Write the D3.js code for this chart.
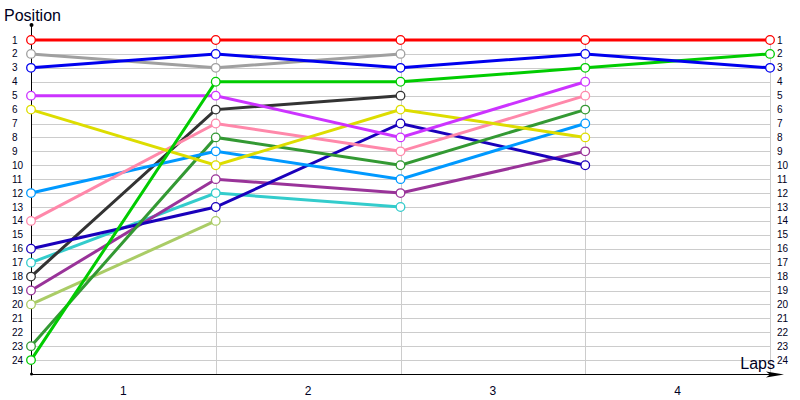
<!DOCTYPE html>
<meta charset="utf-8">
<html>
<head>
<style>
  body { margin: 0; background: #fff; }
  text { font-family: "Liberation Sans", Arial, sans-serif; }
</style>
</head>
<body>
<div id="chart"></div>
<script src="https://d3js.org/d3.v7.min.js"></script>
<script>

// lap columns (0 = start) and the labels drawn between them
var laps = [0, 1, 2, 3, 4];
var lapLabels = ["1", "2", "3", "4"];
var positions = d3.range(1, 25);

// position of each driver at lap 0,1,2,... (shorter arrays = retired)
var red     = [1, 1, 1, 1, 1];
var gray    = [2, 3, 2];
var blue    = [3, 2, 3, 2, 3];
var magenta = [5, 5, 8, 4];
var yellow  = [6, 10, 6, 8];
var skyBlue = [12, 9, 11, 7];
var pink    = [14, 7, 9, 5];
var navy    = [16, 13, 7, 10];
var cyan    = [17, 12, 13];
var black   = [18, 6, 5];
var purple  = [19, 11, 12, 9];
var olive   = [20, 14];
var dkGreen = [23, 8, 10, 6];
var green   = [24, 4, 4, 3, 2];

var series = [
  { vals: gray,    color: "#a0a0a0" },
  { vals: olive,   color: "#aacc66" },
  { vals: cyan,    color: "#33cccc" },
  { vals: black,   color: "#333333" },
  { vals: purple,  color: "#993399" },
  { vals: navy,    color: "#1a00bb" },
  { vals: dkGreen, color: "#339933" },
  { vals: skyBlue, color: "#0099ff" },
  { vals: pink,    color: "#ff88aa" },
  { vals: yellow,  color: "#dddd00" },
  { vals: magenta, color: "#cc33ff" },
  { vals: green,   color: "#00cc00" },
  { vals: blue,    color: "#0000ee" },
  { vals: red,     color: "#ff0000" }
];

var width = 800, height = 400;

var svg = d3.select("#chart").append("svg")
  .attr("width", width)
  .attr("height", height);

var x = d3.scaleLinear().domain([0, 4]).range([31, 770]);
var y = d3.scaleLinear().domain([1, 25]).range([40, 374]);

// horizontal grid
svg.append("g")
  .selectAll("line")
  .data(positions)
  .join("line")
    .attr("x1", x(0)).attr("x2", x(4))
    .attr("y1", function(d) { return Math.round(y(d)) + 0.5; })
    .attr("y2", function(d) { return Math.round(y(d)) + 0.5; })
    .attr("stroke", "#cccccc");

// vertical grid at each lap
svg.append("g")
  .selectAll("line")
  .data(laps.slice(1))
  .join("line")
    .attr("x1", function(d) { return Math.round(x(d)) + 0.5; })
    .attr("x2", function(d) { return Math.round(x(d)) + 0.5; })
    .attr("y1", y(1)).attr("y2", y(25))
    .attr("stroke", "#cccccc");

// left position labels
svg.append("g")
  .selectAll("text")
  .data(positions)
  .join("text")
    .attr("x", 12)
    .attr("y", function(d) { return y(d) + 3.5; })
    .attr("font-size", "10px")
    .attr("fill", "#000022")
    .text(function(d) { return d; });

// right position labels
svg.append("g")
  .selectAll("text")
  .data(positions)
  .join("text")
    .attr("x", 777)
    .attr("y", function(d) { return y(d) + 3.5; })
    .attr("font-size", "10px")
    .attr("fill", "#000022")
    .text(function(d) { return d; });

// lap labels between columns
svg.append("g")
  .selectAll("text")
  .data(lapLabels)
  .join("text")
    .attr("x", function(d, i) { return (x(i) + x(i + 1)) / 2; })
    .attr("y", 395)
    .attr("text-anchor", "middle")
    .attr("font-size", "12px")
    .attr("fill", "#000022")
    .text(function(d) { return d; });

// axes
svg.append("line")
  .attr("x1", 31.5).attr("x2", 31.5)
  .attr("y1", 25).attr("y2", y(25))
  .attr("stroke", "#000");
svg.append("circle").attr("cx", 31.5).attr("cy", 25).attr("r", 2).attr("fill", "#000");
svg.append("circle").attr("cx", 31.5).attr("cy", y(25)).attr("r", 1.5).attr("fill", "#000");
svg.append("line")
  .attr("x1", 31).attr("x2", 776)
  .attr("y1", y(25) + 0.5).attr("y2", y(25) + 0.5)
  .attr("stroke", "#000");
svg.append("path")
  .attr("d", "M766," + (y(25) - 2.5) + " L784," + (y(25) + 0.5) + " L766," + (y(25) + 3.5) + " L770," + (y(25) + 0.5) + " Z")
  .attr("fill", "#000");

svg.append("text")
  .attr("x", 4).attr("y", 21)
  .attr("font-size", "16px")
  .attr("fill", "#000022")
  .text("Position");
svg.append("text")
  .attr("x", 775).attr("y", 369)
  .attr("text-anchor", "end")
  .attr("font-size", "16px")
  .attr("fill", "#000022")
  .text("Laps");

// series lines + markers
var line = d3.line()
  .x(function(d, i) { return x(i); })
  .y(function(d) { return y(d); });

series.forEach(function(s) {
  svg.append("path")
    .datum(s.vals)
    .attr("d", line)
    .attr("fill", "none")
    .attr("stroke", s.color)
    .attr("stroke-width", 3);
});

series.forEach(function(s) {
  svg.append("g")
    .selectAll("circle")
    .data(s.vals)
    .join("circle")
      .attr("cx", function(d, i) { return x(i); })
      .attr("cy", function(d) { return y(d); })
      .attr("r", 4.3)
      .attr("fill", "#fff")
      .attr("stroke", s.color)
      .attr("stroke-width", 1.3);
});

</script>
</body>
</html>
